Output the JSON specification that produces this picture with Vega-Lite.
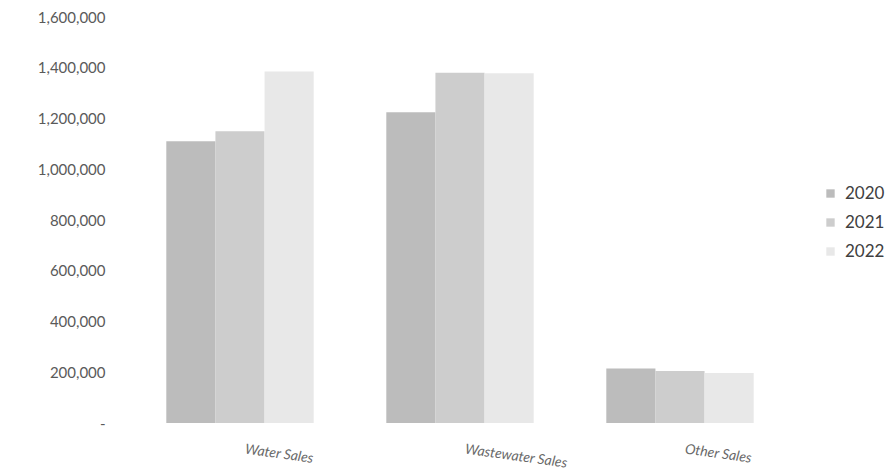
{
  "$schema": "https://vega.github.io/schema/vega-lite/v6.json",
  "width": 660,
  "height": 406,
  "autosize": "none",
  "padding": {"left": 130, "top": 17, "right": 103, "bottom": 48},
  "background": "white",
  "config": {
    "view": {"stroke": null},
    "font": "Lato"
  },
  "data": {
    "values": [
      {"category": "Water Sales", "year": "2020", "amount": 1110000},
      {"category": "Water Sales", "year": "2021", "amount": 1150000},
      {"category": "Water Sales", "year": "2022", "amount": 1385000},
      {"category": "Wastewater Sales", "year": "2020", "amount": 1225000},
      {"category": "Wastewater Sales", "year": "2021", "amount": 1380000},
      {"category": "Wastewater Sales", "year": "2022", "amount": 1378000},
      {"category": "Other Sales", "year": "2020", "amount": 215000},
      {"category": "Other Sales", "year": "2021", "amount": 205000},
      {"category": "Other Sales", "year": "2022", "amount": 197000}
    ]
  },
  "mark": {"type": "bar"},
  "encoding": {
    "x": {
      "field": "category",
      "type": "nominal",
      "sort": ["Water Sales", "Wastewater Sales", "Other Sales"],
      "scale": {"paddingInner": 0.33, "paddingOuter": 0.165},
      "axis": {
        "title": null,
        "domain": false,
        "ticks": false,
        "labelAngle": 8,
        "labelAlign": "left",
        "labelBaseline": "top",
        "labelOffset": 6,
        "labelPadding": 19,
        "labelFont": "Lato",
        "labelFontStyle": "italic",
        "labelFontSize": 14,
        "labelColor": "#6a6a6a"
      }
    },
    "xOffset": {
      "field": "year",
      "type": "nominal",
      "scale": {"paddingInner": 0, "paddingOuter": 0}
    },
    "y": {
      "field": "amount",
      "type": "quantitative",
      "scale": {"domain": [0, 1600000], "nice": false},
      "axis": {
        "title": null,
        "domain": false,
        "ticks": false,
        "grid": false,
        "values": [0, 200000, 400000, 600000, 800000, 1000000, 1200000, 1400000, 1600000],
        "labelExpr": "datum.value == 0 ? '-\u00a0\u00a0\u00a0\u00a0\u00a0' : format(datum.value, ',')",
        "labelPadding": 25,
        "labelFont": "Lato",
        "labelFontSize": 15,
        "labelColor": "#5a5a5a"
      }
    },
    "color": {
      "field": "year",
      "type": "nominal",
      "scale": {"domain": ["2020", "2021", "2022"], "range": ["#bcbcbc", "#cdcdcd", "#e8e8e8"]},
      "legend": {
        "title": null,
        "orient": "none",
        "legendX": 692,
        "legendY": 168,
        "symbolType": "square",
        "symbolSize": 70,
        "symbolStrokeWidth": 0,
        "labelFont": "Lato",
        "labelFontSize": 17,
        "labelColor": "#404040",
        "labelOffset": 6,
        "rowPadding": 11
      }
    }
  }
}
